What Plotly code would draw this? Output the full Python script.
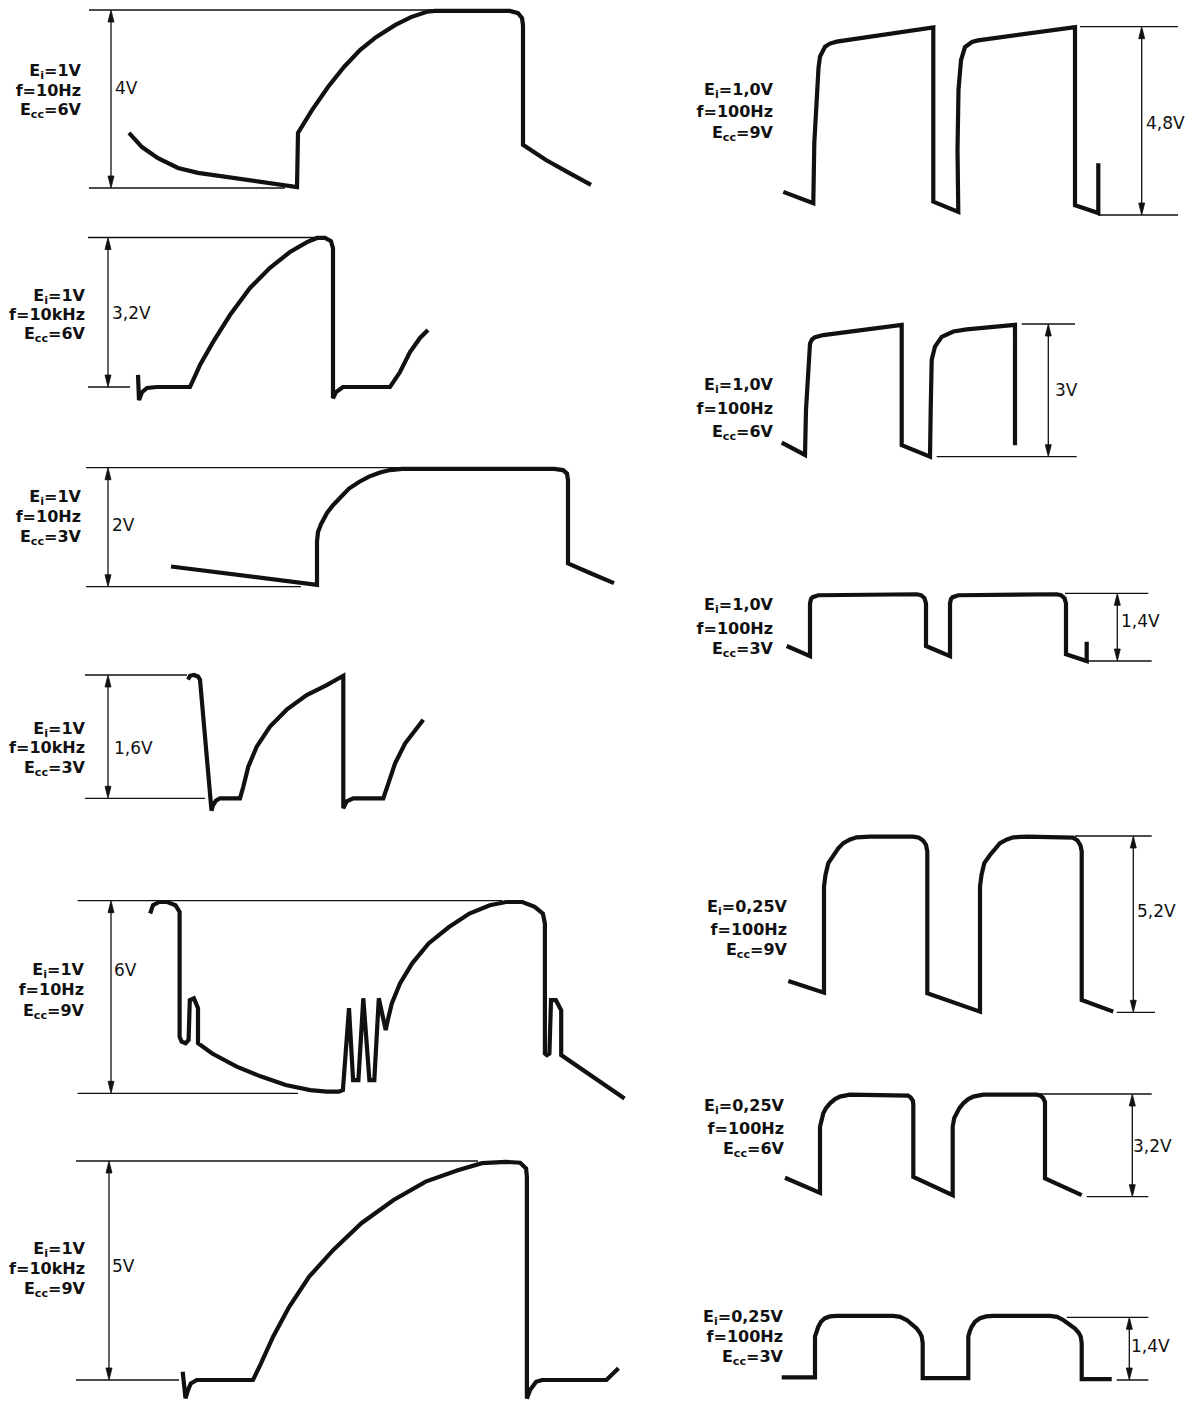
import plotly.graph_objects as go

W, H = 1201, 1402
T_SPAN = 120.1          # horizontal time base of the sheet, in divisions

# ---------------- oscillogram data: time (div) / voltage (V) ----------------
t_L1 = [12.9, 14.2, 15.8, 17.8, 19.8, 22.1, 25.7, 29.7, 29.8, 31.2, 32.8, 34.4, 36.0, 37.6,
        39.5, 41.1, 42.7, 43.5, 51.0, 51.8, 52.2, 52.3, 52.3, 54.6, 56.9, 59.1]
v_L1 = [1.24, 0.92, 0.67, 0.45, 0.34, 0.27, 0.16, 0.02, 1.24, 1.75, 2.27, 2.72, 3.10, 3.39,
        3.66, 3.84, 3.96, 3.98, 3.98, 3.93, 3.82, 3.66, 0.97, 0.63, 0.34, 0.07]

t_L2 = [13.8, 13.9, 14.2, 14.7, 15.7, 19.0, 20.0, 21.3, 23.0, 25.0, 27.0, 29.0, 30.7, 31.7,
        32.5, 33.1, 33.3, 33.3, 33.6, 34.3, 39.0, 40.0, 41.0, 42.0, 42.8]
v_L2 = [0.26, -0.28, -0.11, -0.02, 0.0, 0.0, 0.47, 0.96, 1.54, 2.12, 2.55, 2.89, 3.10, 3.19,
        3.19, 3.12, 2.97, -0.24, -0.11, 0.0, 0.0, 0.32, 0.75, 1.05, 1.22]

t_L3 = [17.1, 31.7, 31.7, 31.8, 32.1, 32.7, 33.3, 34.1, 34.9, 35.9, 36.9, 38.0, 39.0, 40.2,
        55.4, 56.3, 56.7, 56.8, 56.8, 59.0, 61.4]
v_L3 = [0.34, 0.03, 0.76, 0.92, 1.05, 1.24, 1.37, 1.52, 1.65, 1.76, 1.85, 1.92, 1.96, 1.98,
        1.98, 1.96, 1.90, 1.79, 0.39, 0.23, 0.06]

t_L4 = [18.8, 19.0, 19.4, 19.8, 20.0, 21.05, 21.15, 21.3, 21.6, 22.0, 24.0, 24.33, 24.83,
        25.67, 27.0, 28.67, 30.67, 32.67, 34.33, 34.33, 34.67, 35.33, 38.33, 38.83, 39.5,
        40.5, 41.5, 42.33]
v_L4 = [1.54, 1.59, 1.60, 1.58, 1.54, -0.10, -0.16, -0.09, -0.03, 0.0, 0.0, 0.15, 0.41,
        0.67, 0.93, 1.15, 1.34, 1.47, 1.59, -0.13, -0.04, 0.0, 0.0, 0.19, 0.45,
        0.71, 0.89, 1.02]

t_L5 = [15.02, 15.3, 15.92, 16.73, 17.55, 17.96, 17.96, 18.16, 18.57, 18.86, 18.98, 19.39,
        19.8, 19.8, 21.22, 23.67, 26.12, 28.57, 31.02, 32.65, 33.88, 34.29, 34.9, 35.31,
        35.84, 36.33, 36.94, 37.43, 37.88, 38.57, 38.78, 39.18, 40.0, 41.22, 42.86, 44.9,
        46.94, 48.98, 50.61, 52.24, 53.47, 54.29, 54.49, 54.49, 54.69, 54.94, 55.1, 55.59,
        56.12, 56.12, 62.45]
v_L5 = [5.60, 5.86, 5.96, 5.96, 5.86, 5.65, 1.76, 1.61, 1.56, 1.66, 2.90, 2.96,
        2.65, 1.56, 1.24, 0.83, 0.52, 0.26, 0.10, 0.05, 0.05, 0.10, 2.65, 0.41,
        0.41, 2.96, 0.41, 0.41, 2.96, 1.97, 2.28, 2.80, 3.42, 4.05, 4.67, 5.18,
        5.60, 5.86, 5.96, 5.96, 5.81, 5.60, 5.29, 1.24, 1.19, 1.24, 2.90, 2.90,
        2.59, 1.19, -0.16]

t_L6 = [18.27, 18.55, 18.8, 19.08, 19.68, 25.3, 26.1, 27.31, 28.92, 30.92, 33.33, 36.14,
        39.36, 42.57, 45.78, 48.19, 50.6, 52.01, 52.61, 52.69, 52.69, 53.01, 53.61, 54.22,
        60.64, 61.85]
v_L6 = [0.19, -0.42, -0.23, -0.08, 0.0, 0.0, 0.38, 0.99, 1.67, 2.36, 2.97, 3.58,
        4.11, 4.53, 4.79, 4.95, 4.98, 4.96, 4.83, 4.64, -0.42, -0.23, -0.04, 0.0,
        0.0, 0.27]

t_R1 = [78.33, 81.33, 81.43, 81.67, 81.85, 82.0, 82.5, 83.0, 83.67, 93.33, 93.33, 95.83,
        95.75, 95.85, 96.1, 96.5, 97.2, 97.8, 107.5, 107.5, 109.67, 109.83, 109.83]
v_R1 = [0.59, 0.30, 1.83, 3.10, 3.75, 4.04, 4.29, 4.37, 4.42, 4.78, 0.34, 0.08,
        1.66, 3.19, 3.95, 4.28, 4.41, 4.45, 4.79, 0.25, 0.04, 0.05, 1.32]

t_R2 = [78.17, 80.5, 80.6, 80.83, 81.0, 81.2, 81.5, 82.33, 90.17, 90.17, 93.0, 93.07,
        93.17, 93.5, 94.17, 95.33, 96.67, 101.5, 101.5]
v_R2 = [0.32, 0.04, 1.06, 2.19, 2.56, 2.65, 2.70, 2.75, 2.98, 0.26, 0.0, 1.06,
        2.19, 2.49, 2.71, 2.83, 2.88, 2.98, 0.26]

t_R3 = [78.67, 81.0, 81.0, 81.1, 81.27, 81.83, 91.67, 92.1, 92.45, 92.6, 92.6, 95.0,
        95.0, 95.1, 95.27, 95.83, 105.67, 106.1, 106.45, 106.6, 106.6, 108.5, 108.67, 108.67]
v_R3 = [0.31, 0.10, 1.19, 1.28, 1.32, 1.36, 1.38, 1.36, 1.30, 1.19, 0.31, 0.10,
        1.19, 1.28, 1.32, 1.36, 1.38, 1.36, 1.30, 1.19, 0.14, 0.0, 0.0, 0.40]

t_R4 = [78.83, 82.4, 82.4, 82.55, 82.83, 83.33, 83.83, 84.33, 85.0, 85.67, 87.0, 91.33,
        91.9, 92.3, 92.6, 92.73, 92.73, 98.0, 98.0, 98.15, 98.43, 99.0, 99.5, 100.0,
        100.7, 101.33, 102.67, 106.67, 107.3, 107.75, 108.05, 108.17, 108.17, 111.33]
v_R4 = [0.92, 0.58, 3.71, 4.05, 4.40, 4.64, 4.84, 4.99, 5.10, 5.16, 5.18, 5.18,
        5.15, 5.07, 4.94, 4.75, 0.56, 0.02, 3.71, 4.05, 4.40, 4.64, 4.84, 4.99,
        5.10, 5.16, 5.18, 5.18, 5.15, 5.07, 4.92, 4.75, 0.36, 0.02]

t_R5 = [78.5, 82.0, 82.0, 82.15, 82.33, 82.6, 83.0, 83.5, 84.0, 85.0, 90.33, 90.8, 91.07,
        91.3, 91.33, 91.33, 95.27, 95.27, 95.42, 95.67, 95.94, 96.33, 96.83, 97.33, 98.33,
        103.67, 104.05, 104.3, 104.5, 104.5, 104.5, 108.17]
v_R5 = [0.59, 0.12, 2.18, 2.45, 2.60, 2.76, 2.91, 3.04, 3.12, 3.18, 3.18, 3.15, 3.09,
        2.98, 2.86, 0.62, 0.05, 2.18, 2.45, 2.60, 2.76, 2.91, 3.04, 3.12, 3.18,
        3.18, 3.15, 3.08, 2.95, 2.83, 0.57, 0.05]

t_R6 = [78.17, 81.5, 81.5, 81.65, 81.83, 82.1, 82.5, 83.0, 83.67, 89.33, 90.0, 90.67, 91.2,
        91.67, 92.0, 92.17, 92.27, 92.27, 96.83, 96.83, 96.98, 97.17, 97.5, 98.0, 98.6,
        99.33, 105.0, 105.7, 106.33, 106.9, 107.5, 107.85, 108.07, 108.17, 108.17, 111.17]
v_R6 = [0.06, 0.06, 0.97, 1.09, 1.19, 1.30, 1.38, 1.42, 1.43, 1.43, 1.41, 1.34, 1.25,
        1.15, 1.05, 0.97, 0.82, 0.04, 0.04, 0.97, 1.09, 1.19, 1.30, 1.38, 1.42,
        1.43, 1.43, 1.41, 1.34, 1.25, 1.15, 1.06, 0.97, 0.82, 0.02, 0.02]

# ---------------- per-trace measurement data ----------------
panels = ["L1", "L2", "L3", "L4", "L5", "L6", "R1", "R2", "R3", "R4", "R5", "R6"]
amplitude_V = [4, 3.2, 2, 1.6, 6, 5, 4.8, 3, 1.4, 5.2, 3.2, 1.4]
input_Ei = ["1V", "1V", "1V", "1V", "1V", "1V", "1,0V", "1,0V", "1,0V", "0,25V", "0,25V", "0,25V"]
freq_f = ["10Hz", "10kHz", "10Hz", "10kHz", "10Hz", "10kHz",
          "100Hz", "100Hz", "100Hz", "100Hz", "100Hz", "100Hz"]
supply_Ecc = ["6V", "6V", "3V", "3V", "9V", "9V", "9V", "6V", "3V", "9V", "6V", "3V"]
# dimension arrow position (div)
arrow_t = [11.1, 10.8, 10.8, 10.8, 11.1, 10.9, 114.17, 104.83, 111.73, 113.33, 113.23, 112.93]
# extent (div) of the top (amplitude) and bottom (0 V) reference lines
ref_top = [(8.9, 43.5), (8.8, 31.5), (8.6, 40.0), (8.5, 18.7), (7.76, 50.2), (7.6, 47.8),
           (108.0, 117.8), (102.17, 107.5), (106.5, 114.83), (107.5, 115.17), (103.83, 115.17),
           (106.67, 114.83)]
ref_bot = [(8.9, 28.5), (8.8, 13.0), (8.6, 30.1), (8.5, 20.5), (7.76, 29.8), (7.6, 17.9),
           (109.8, 117.8), (93.67, 107.67), (108.5, 115.17), (111.67, 115.5), (108.67, 114.83),
           (111.67, 114.83)]
traces_t = [t_L1, t_L2, t_L3, t_L4, t_L5, t_L6, t_R1, t_R2, t_R3, t_R4, t_R5, t_R6]
traces_v = [v_L1, v_L2, v_L3, v_L4, v_L5, v_L6, v_R1, v_R2, v_R3, v_R4, v_R5, v_R6]

# ---------------- sheet layout (pixels) ----------------
# pixel rows of each panel's amplitude line and 0 V line
PANEL_ROWS = {
    "L1": (10, 188), "L2": (237.5, 387), "L3": (467.7, 586.7), "L4": (675, 798.3),
    "L5": (900.7, 1093.3), "L6": (1161, 1380),
    "R1": (26.7, 215), "R2": (324, 456.7), "R3": (593.3, 661), "R4": (836, 1012.3),
    "R5": (1094, 1196.7), "R6": (1317.3, 1380),
}
# right edge and line centres of the condition legend of each panel
COND_POS = {
    "L1": (81, (72, 92, 111)), "L2": (85, (297, 316, 335)), "L3": (81, (498, 518, 538)),
    "L4": (85, (730, 749, 769)), "L5": (84, (971, 991, 1012)), "L6": (85, (1250, 1270, 1290)),
    "R1": (773, (91, 113, 134)), "R2": (773, (386, 410, 433)), "R3": (773, (606, 630, 650)),
    "R4": (787, (908, 931, 951)), "R5": (784, (1107, 1130, 1150)), "R6": (783, (1318, 1338, 1358)),
}
# left edge / centre row of the amplitude caption next to each arrow
AMP_POS = {
    "L1": (115, 90), "L2": (112, 315), "L3": (112, 527), "L4": (114, 750), "L5": (114, 972),
    "L6": (112, 1268), "R1": (1146, 125), "R2": (1055, 392), "R3": (1121, 623),
    "R4": (1137, 913), "R5": (1133, 1148), "R6": (1131, 1348),
}
PAD = 30
INK = "#111111"
FONT = "DejaVu Sans"
HEAD_LEN, HEAD_HALF = 12, 3   # arrowhead size, px

fig = go.Figure()
layout = dict(width=W, height=H, margin=dict(l=0, r=0, t=0, b=0),
              font=dict(family=FONT, size=16, color=INK),
              paper_bgcolor="white", plot_bgcolor="rgba(0,0,0,0)", showlegend=False)
px_per_div = W / T_SPAN

for i, name in enumerate(panels):
    k = i + 1
    xa = "x" if k == 1 else f"x{k}"
    ya = "y" if k == 1 else f"y{k}"
    ytop, ybot = PANEL_ROWS[name]
    A = amplitude_V[i]
    vpp = A / (ybot - ytop)
    hi_px = max(ytop - PAD, 0)
    lo_px = min(ybot + PAD, H)
    layout["xaxis" if k == 1 else f"xaxis{k}"] = dict(
        domain=[0, 1], range=[0, T_SPAN], visible=False, fixedrange=True, anchor=ya)
    layout["yaxis" if k == 1 else f"yaxis{k}"] = dict(
        domain=[1 - lo_px / H, 1 - hi_px / H],
        range=[-(lo_px - ybot) * vpp, A + (ytop - hi_px) * vpp],
        visible=False, fixedrange=True, anchor=xa)

    # reference lines at 0 V and at the amplitude
    (a0, a1), (b0, b1) = ref_top[i], ref_bot[i]
    fig.add_trace(go.Scatter(x=[a0, a1, None, b0, b1], y=[A, A, None, 0, 0], mode="lines",
                             line=dict(color=INK, width=1.3), xaxis=xa, yaxis=ya,
                             hoverinfo="skip"))
    # dimension arrow
    ta = arrow_t[i]
    hw = HEAD_HALF / px_per_div
    hl = HEAD_LEN * vpp
    fig.add_trace(go.Scatter(x=[ta, ta], y=[hl * 0.5, A - hl * 0.5], mode="lines",
                             line=dict(color=INK, width=1.3), xaxis=xa, yaxis=ya,
                             hoverinfo="skip"))
    fig.add_trace(go.Scatter(x=[ta, ta - hw, ta + hw, ta, None, ta, ta - hw, ta + hw, ta],
                             y=[A, A - hl, A - hl, A, None, 0, hl, hl, 0],
                             mode="lines", fill="toself", fillcolor=INK,
                             line=dict(color=INK, width=0.8), xaxis=xa, yaxis=ya,
                             hoverinfo="skip"))
    # oscillogram
    fig.add_trace(go.Scatter(x=traces_t[i], y=traces_v[i], mode="lines",
                             line=dict(color=INK, width=4.2), xaxis=xa, yaxis=ya,
                             hoverinfo="skip"))

# ---------------- captions on a sheet-wide pixel overlay ----------------
NT = len(panels) + 1
layout[f"xaxis{NT}"] = dict(domain=[0, 1], range=[0, W], visible=False, fixedrange=True,
                            anchor=f"y{NT}")
layout[f"yaxis{NT}"] = dict(domain=[0, 1], range=[H, 0], visible=False, fixedrange=True,
                            anchor=f"x{NT}")

amp_x, amp_y, amp_txt = [], [], []
cond_x, cond_y, cond_txt = [], [], []
for i, name in enumerate(panels):
    ax_px, ay_px = AMP_POS[name]
    amp_x.append(ax_px)
    amp_y.append(ay_px)
    amp_txt.append(f"{amplitude_V[i]:g}".replace(".", ",") + "V")
    rx, rows = COND_POS[name]
    lines = [f"E<sub>i</sub>={input_Ei[i]}", f"f={freq_f[i]}",
             f"E<sub>cc</sub>={supply_Ecc[i]}"]
    for txt, ry in zip(lines, rows):
        cond_x.append(rx)
        cond_y.append(ry)
        cond_txt.append(f"<b>{txt}</b>")

fig.add_trace(go.Scatter(x=amp_x, y=amp_y, text=amp_txt, mode="text",
                         textposition="middle right", cliponaxis=False,
                         textfont=dict(family=FONT, size=17, color=INK),
                         xaxis=f"x{NT}", yaxis=f"y{NT}", hoverinfo="skip"))
fig.add_trace(go.Scatter(x=cond_x, y=cond_y, text=cond_txt, mode="text",
                         textposition="middle left", cliponaxis=False,
                         textfont=dict(family=FONT, size=16, color=INK),
                         xaxis=f"x{NT}", yaxis=f"y{NT}", hoverinfo="skip"))

fig.update_layout(**layout)
fig.write_html("out.html")
